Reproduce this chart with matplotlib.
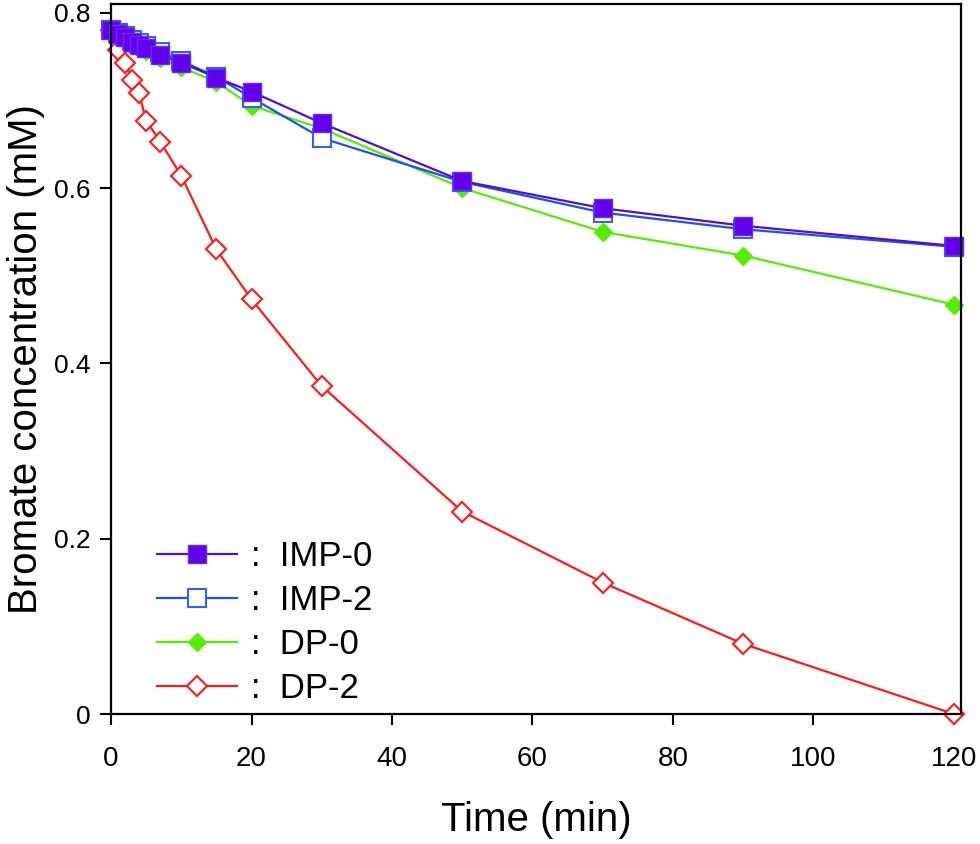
import numpy as np
import matplotlib
matplotlib.use('Agg')
import matplotlib.pyplot as plt

plt.rcParams['font.family'] = ['Liberation Sans', 'DejaVu Sans']

# time points (min)
time = [0, 1, 2, 3, 4, 5, 7, 10, 15, 20, 30, 50, 70, 90, 120]

# bromate concentration (mM)
imp0 = [0.780, 0.776, 0.772, 0.767, 0.763, 0.760, 0.752, 0.743, 0.726, 0.710, 0.674, 0.608, 0.577, 0.557, 0.534]
imp2 = [0.780, 0.777, 0.773, 0.769, 0.765, 0.762, 0.755, 0.745, 0.727, 0.703, 0.657, 0.607, 0.572, 0.553, 0.533]
dp0 = [0.780, 0.775, 0.770, 0.765, 0.760, 0.756, 0.748, 0.738, 0.721, 0.694, 0.668, 0.600, 0.550, 0.523, 0.467]
dp2 = [0.780, 0.757, 0.743, 0.723, 0.708, 0.677, 0.653, 0.614, 0.530, 0.473, 0.374, 0.231, 0.150, 0.080, 0.000]

labels = ['IMP-0', 'IMP-2', 'DP-0', 'DP-2']

fig = plt.figure(figsize=(9.8, 8.44), dpi=100)
ax = fig.add_axes([0.1133, 0.154, 0.8673, 0.8413])

#Plotting the series (IMP-0 last so it sits on top)
l4, = ax.plot(time, dp2, color='#ff1a1a', lw=1.6, marker='D', ms=10,
              mfc='white', mec='#ff1a1a', mew=1.5, clip_on=False)
l3, = ax.plot(time, dp0, color='#55ee00', lw=1.6, marker='D', ms=9,
              mfc='#55ee00', mec='#55ee00', clip_on=False)
l2, = ax.plot(time, imp2, color='#2050f0', lw=1.6, marker='s', ms=13,
              mfc='white', mec='#3060ff', mew=1.5, clip_on=False)
l1, = ax.plot(time, imp0, color='#5210c4', lw=1.6, marker='s', ms=13,
              mfc='#6200ee', mec='#6a2af0', mew=1.0, clip_on=False)

ax.set_xlim(0, 121)
ax.set_ylim(0, 0.81)
ax.set_xticks([0, 20, 40, 60, 80, 100, 120])
ax.set_yticks([0, 0.2, 0.4, 0.6, 0.8])
ax.set_yticklabels(['0', '0.2', '0.4', '0.6', '0.8'])

for sp in ax.spines.values():
    sp.set_linewidth(1.6)
ax.tick_params(axis='both', direction='out', length=8, width=1.5)
ax.tick_params(axis='x', pad=15, labelsize=20)
ax.tick_params(axis='y', pad=7, labelsize=19)

ax.set_xlabel('Time (min)', fontsize=29, labelpad=21)
ax.set_ylabel('Bromate concentration (mM)', fontsize=29, labelpad=6)

leg = ax.legend([l1, l2, l3, l4], [':  ' + s for s in labels],
                loc='upper left', bbox_to_anchor=(0.054, 0.245),
                frameon=False, fontsize=25, handlelength=2.3,
                handletextpad=0.4, labelspacing=0.32,
                borderpad=0, borderaxespad=0)

fig.savefig('out.png', dpi=100)
